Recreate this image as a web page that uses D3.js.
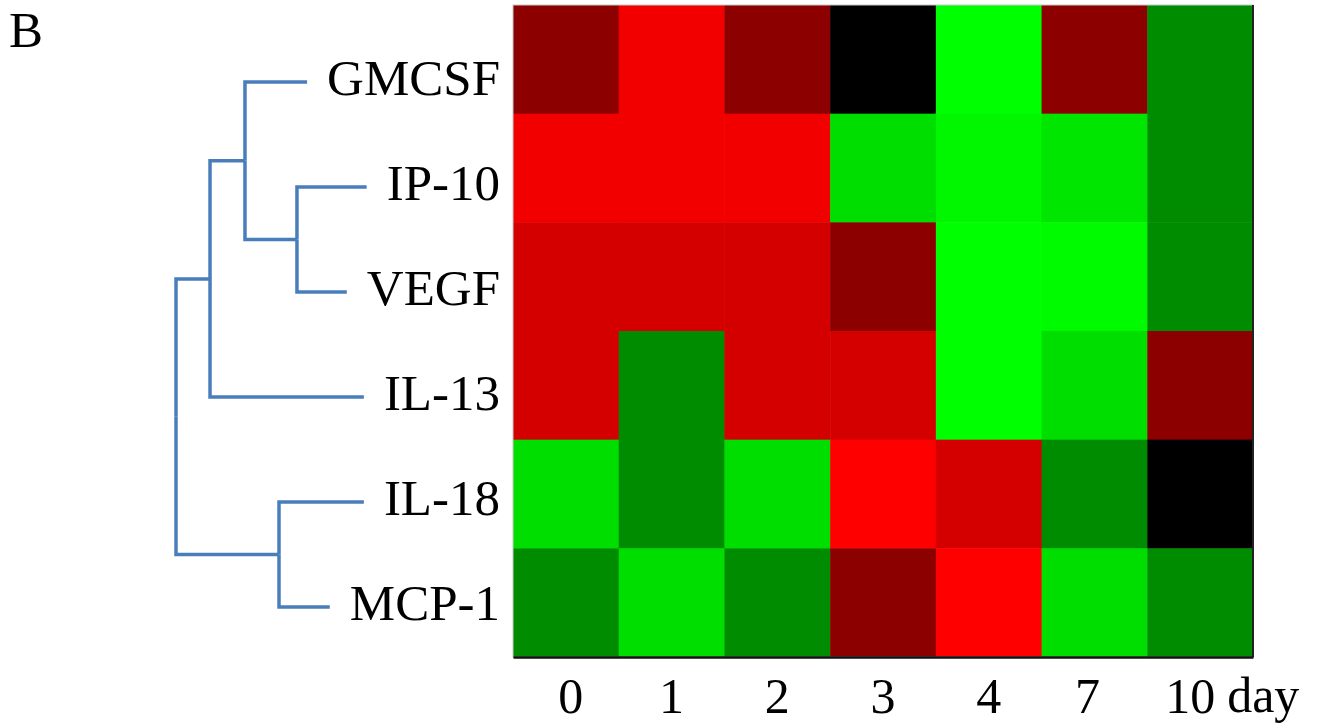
<!DOCTYPE html>
<html>
<head>
<meta charset="utf-8">
<script src="https://cdn.jsdelivr.net/npm/d3@7"></script>
<style>
  body { margin: 0; background: #fff; }
  text { font-family: "Liberation Serif", "Times New Roman", serif; fill: #000; }
</style>
</head>
<body>
<svg id="chart" width="1323" height="725"></svg>
<script>
/*
  heat map of cytokine levels over days, red = up, green = down,
  with a cluster tree drawn on the left of the row labels
*/
var genes = ["GMCSF", "IP-10", "VEGF", "IL-13", "IL-18", "MCP-1"];
var days = ["0", "1", "2", "3", "4", "7", "10"];

// one row per gene, one value per day (-1 green .. 0 black .. 1 red)
var gmcsf = [0.55, 0.95, 0.55, 0, -1, 0.55, -0.55];
var ip10 = [0.95, 0.95, 0.95, -0.87, -0.97, -0.9, -0.55];
var vegf = [0.83, 0.83, 0.83, 0.55, -1, -0.98, -0.55];
var il13 = [0.83, -0.55, 0.83, 0.83, -1, -0.87, 0.55];
var il18 = [-0.87, -0.55, -0.87, 1, 0.83, -0.55, 0];
var mcp1 = [-0.55, -0.87, -0.55, 0.55, 1, -0.87, -0.55];
var rows = [gmcsf, ip10, vegf, il13, il18, mcp1];

// cluster tree, merge heights (0 = leaves, 1 = root)
var tree = {
  name: "root", height: 1, children: [
    { name: "n3", height: 0.82, children: [
      { name: "n2", height: 0.635, children: [
        { name: "GMCSF" },
        { name: "n1", height: 0.36, children: [{ name: "IP-10" }, { name: "VEGF" }] }
      ] },
      { name: "IL-13" }
    ] },
    { name: "n4", height: 0.455, children: [{ name: "IL-18" }, { name: "MCP-1" }] }
  ]
};

var svg = d3.select("#chart");

// plot box (note: "top" is taken by window.top, so use other names)
var mapLeft = 513, mapRight = 1253, mapTop = 5, mapBottom = 657;

var x = d3.scaleBand().domain(days).range([mapLeft, mapRight]);
var y = d3.scaleBand().domain(genes).range([mapTop, mapBottom]);
var labelY = d3.scalePoint().domain(genes).range([77, 602]);
var color = d3.scaleLinear().domain([-1, 0, 1]).range(["#00ff00", "#000000", "#ff0000"]);

var cells = [];
rows.forEach(function(r, i) {
  r.forEach(function(v, j) {
    cells.push({ gene: genes[i], day: days[j], value: v });
  });
});

svg.append("g").selectAll("rect").data(cells).enter().append("rect")
  .attr("x", function(d) { return x(d.day); })
  .attr("y", function(d) { return y(d.gene); })
  .attr("width", x.bandwidth() + 0.5)
  .attr("height", y.bandwidth() + 0.5)
  .attr("fill", function(d) { return color(d.value); });

// frame: light top/left, dark right and bottom
svg.append("rect")
  .attr("x", mapLeft).attr("y", mapTop)
  .attr("width", mapRight - mapLeft).attr("height", mapBottom - mapTop)
  .attr("fill", "none").attr("stroke", "#c8c8c8").attr("stroke-width", 1);
svg.append("line")
  .attr("x1", mapRight).attr("x2", mapRight).attr("y1", mapTop).attr("y2", mapBottom)
  .attr("stroke", "#222").attr("stroke-width", 2);

// x axis
var xAxis = svg.append("g")
  .attr("transform", "translate(0," + mapBottom + ")")
  .call(d3.axisBottom(x).tickSize(0).tickPadding(20));
xAxis.select(".domain").attr("stroke", "#111").attr("stroke-width", 2.5);
xAxis.selectAll(".tick text")
  .attr("font-size", 50)
  .attr("font-family", "Liberation Serif, Times New Roman, serif")
  .attr("dy", "0.71em")
  .attr("dx", function(d) { return d === "10" ? -10 : d === "7" ? -7 : d === "0" ? 5 : 0; })
  .attr("fill", "#000");

// "day" unit after the last tick
var lastTick = xAxis.selectAll(".tick text").filter(function(d) { return d === days[days.length - 1]; });
var lastBox = lastTick.node().getBBox();
var lastX = x(days[days.length - 1]) + x.bandwidth() / 2 - 10;
svg.append("text")
  .attr("x", lastX + lastBox.width / 2 + 12)
  .attr("y", 712)
  .attr("font-size", 50)
  .text("day");

// row labels
var labels = svg.append("g").selectAll("text").data(genes).enter().append("text")
  .attr("x", 500)
  .attr("y", function(d) { return labelY(d); })
  .attr("dy", "0.35em")
  .attr("text-anchor", "end")
  .attr("font-size", 51)
  .text(function(d) { return d; });

// where each label starts
var labelStart = {};
labels.each(function(d) { labelStart[d] = this.getBBox().x; });

// dendrogram
var root = d3.hierarchy(tree);
var hx = d3.scaleLinear().domain([0, 1]).range([365, 176]);

root.eachAfter(function(n) {
  if (!n.children) {
    n.py = labelY(n.data.name) + 5;
    n.px = labelStart[n.data.name] - 20;
  } else {
    n.py = d3.mean(n.children, function(c) { return c.py; });
    n.px = hx(n.data.height);
  }
});

var links = root.links();
svg.append("g").selectAll("path").data(links).enter().append("path")
  .attr("d", function(l) {
    return "M" + l.source.px + "," + l.source.py +
      "V" + l.target.py + "H" + l.target.px;
  })
  .attr("fill", "none")
  .attr("stroke", "#4a7ebb")
  .attr("stroke-width", 3.5);

// panel letter
svg.append("text")
  .attr("x", 9)
  .attr("y", 47)
  .attr("font-size", 51)
  .text("B");
</script>
</body>
</html>
